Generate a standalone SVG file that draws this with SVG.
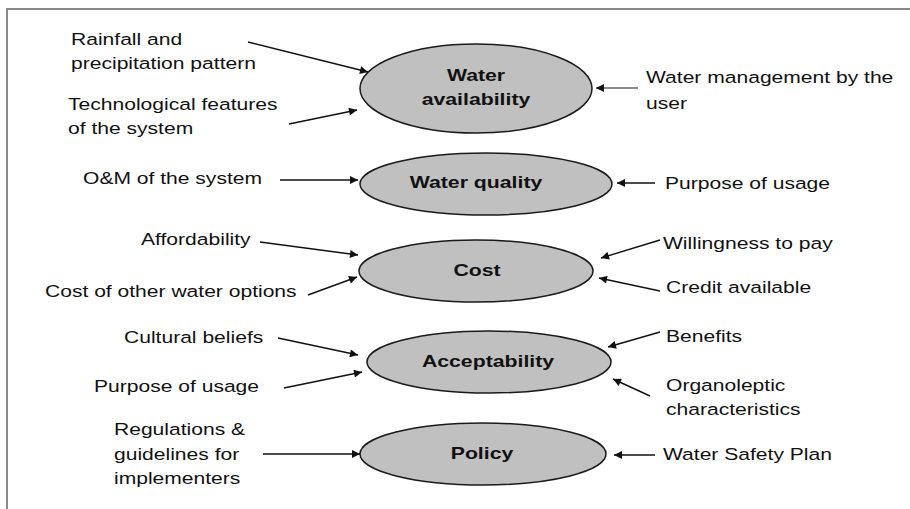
<svg xmlns="http://www.w3.org/2000/svg" width="910" height="509" viewBox="0 0 910 509">
  <style>
    .frame { fill: none; stroke: #8a8a8a; stroke-width: 2; }
    .node ellipse { fill: #c0c0c0; stroke: #1a1a1a; stroke-width: 1.5; }
    .node text { font-family: "Liberation Sans", Arial, sans-serif; font-weight: bold; font-size: 17px; fill: #111; text-anchor: middle; }
    .lbl text { font-family: "Liberation Sans", Arial, sans-serif; font-size: 17px; fill: #111; }
    .conn line { stroke: #111; stroke-width: 1.4; marker-end: url(#arrow); }
  </style>
  <defs>
    <marker id="arrow" viewBox="0 0 10 10" refX="10" refY="5" markerWidth="11" markerHeight="8" markerUnits="userSpaceOnUse" orient="auto">
      <path d="M0,0 L10,5 L0,10 z" fill="#111"/>
    </marker>
  </defs>
  <rect width="910" height="509" fill="#fff"/>
  <path class="frame" d="M7,509 V9 H910"/>

  <!-- central factors (text widened 1.25x around its centre) -->
  <g id="water-availability" class="node">
    <ellipse cx="476" cy="88.5" rx="116" ry="44.5"/>
    <g transform="translate(476,0) scale(1.25,1)">
      <text x="0" y="81">Water</text>
      <text x="0" y="105">availability</text>
    </g>
  </g>
  <g id="water-quality" class="node">
    <ellipse cx="486" cy="184" rx="126" ry="31"/>
    <g transform="translate(476,0) scale(1.25,1)"><text x="0" y="188">Water quality</text></g>
  </g>
  <g id="cost" class="node">
    <ellipse cx="476" cy="271" rx="117" ry="31"/>
    <g transform="translate(477,0) scale(1.25,1)"><text x="0" y="276">Cost</text></g>
  </g>
  <g id="acceptability" class="node">
    <ellipse cx="489" cy="362" rx="122" ry="31"/>
    <g transform="translate(488,0) scale(1.25,1)"><text x="0" y="367">Acceptability</text></g>
  </g>
  <g id="policy" class="node">
    <ellipse cx="483" cy="454" rx="123" ry="31"/>
    <g transform="translate(482,0) scale(1.25,1)"><text x="0" y="459">Policy</text></g>
  </g>

  <!-- influencing factors (text widened 1.24x from its start point) -->
  <g id="rainfall" class="lbl" transform="translate(71,0) scale(1.24,1)"><text x="0" y="45">Rainfall and</text><text x="0" y="69">precipitation pattern</text></g>
  <g id="technology" class="lbl" transform="translate(68,0) scale(1.24,1)"><text x="0" y="110">Technological features</text><text x="0" y="134">of the system</text></g>
  <g id="management" class="lbl" transform="translate(646,0) scale(1.24,1)"><text x="0" y="83">Water management by the</text><text x="0" y="109">user</text></g>
  <g id="om" class="lbl" transform="translate(83,0) scale(1.24,1)"><text x="0" y="184">O&amp;M of the system</text></g>
  <g id="purpose-quality" class="lbl" transform="translate(665,0) scale(1.24,1)"><text x="0" y="189">Purpose of usage</text></g>
  <g id="affordability" class="lbl" transform="translate(141,0) scale(1.24,1)"><text x="0" y="245">Affordability</text></g>
  <g id="other-options" class="lbl" transform="translate(45,0) scale(1.24,1)"><text x="0" y="297">Cost of other water options</text></g>
  <g id="willingness" class="lbl" transform="translate(663,0) scale(1.24,1)"><text x="0" y="249">Willingness to pay</text></g>
  <g id="credit" class="lbl" transform="translate(666,0) scale(1.24,1)"><text x="0" y="293">Credit available</text></g>
  <g id="cultural" class="lbl" transform="translate(124,0) scale(1.24,1)"><text x="0" y="343">Cultural beliefs</text></g>
  <g id="purpose-accept" class="lbl" transform="translate(94,0) scale(1.24,1)"><text x="0" y="392">Purpose of usage</text></g>
  <g id="benefits" class="lbl" transform="translate(666,0) scale(1.24,1)"><text x="0" y="342">Benefits</text></g>
  <g id="organoleptic" class="lbl" transform="translate(666,0) scale(1.24,1)"><text x="0" y="391">Organoleptic</text><text x="0" y="415">characteristics</text></g>
  <g id="regulations" class="lbl" transform="translate(114,0) scale(1.24,1)"><text x="0" y="435">Regulations &amp;</text><text x="0" y="460">guidelines for</text><text x="0" y="484">implementers</text></g>
  <g id="wsp" class="lbl" transform="translate(663,0) scale(1.24,1)"><text x="0" y="460">Water Safety Plan</text></g>

  <g id="connectors" class="conn">
    <line x1="248" y1="42" x2="368" y2="72"/>
    <line x1="289" y1="124" x2="357" y2="110"/>
    <line x1="638" y1="88" x2="596" y2="88" style="stroke:#666"/>
    <line x1="280" y1="180" x2="358" y2="180"/>
    <line x1="655" y1="183" x2="617" y2="183"/>
    <line x1="260" y1="242" x2="358" y2="255"/>
    <line x1="308" y1="295" x2="357" y2="277"/>
    <line x1="660" y1="240" x2="601" y2="258"/>
    <line x1="660" y1="291" x2="599" y2="278"/>
    <line x1="278" y1="338" x2="358" y2="355"/>
    <line x1="284" y1="388" x2="362" y2="372"/>
    <line x1="660" y1="332" x2="608" y2="347"/>
    <line x1="650" y1="396" x2="613" y2="379"/>
    <line x1="263" y1="454" x2="360" y2="454"/>
    <line x1="655" y1="455" x2="614" y2="455"/>
  </g>
</svg>
